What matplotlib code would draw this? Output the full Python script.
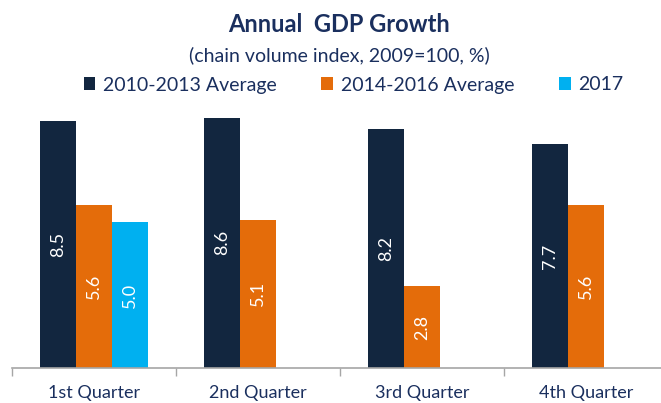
import matplotlib
matplotlib.use('Agg')

import matplotlib.pyplot as plt
from matplotlib.patches import Patch
import numpy as np

# data
quarters = ["1st Quarter", "2nd Quarter", "3rd Quarter", "4th Quarter"]
series_names = ["2010-2013 Average", "2014-2016 Average", "2017"]
avg_2010_2013 = [8.5, 8.6, 8.2, 7.7]
avg_2014_2016 = [5.6, 5.1, 2.8, 5.6]
val_2017 = [5.0, None, None, None]

colors = ["#12263F", "#E46C0A", "#00B0F0"]
text_color = "#1A2F5E"

plt.rcParams['font.family'] = ['Lato', 'DejaVu Sans']

fig = plt.figure(figsize=(6.61, 4.03), dpi=100)
ax = fig.add_axes([12 / 661, 35 / 403, 656 / 661, 262 / 403])

x = np.arange(len(quarters))
width = 0.22
all_series = [avg_2010_2013, avg_2014_2016, val_2017]

for i, (vals, color) in enumerate(zip(all_series, colors)):
    for xi, v in zip(x, vals):
        if v is None:
            continue
        pos = xi + (i - 1) * width
        ax.bar(pos, v, width, color=color, edgecolor='none')
        ax.text(pos, v / 2, f"{v:.1f}", rotation=90, ha='center', va='center',
                color='white', fontsize=13)

ax.set_xlim(-0.5, 3.5)
ax.set_ylim(0, 9)
ax.set_yticks([])
ax.set_xticks(np.arange(-0.5, 4, 1))
ax.set_xticklabels([])
ax.set_xticks(x, minor=True)
ax.set_xticklabels(quarters, minor=True, fontsize=13, color=text_color)
ax.tick_params(axis='x', which='major', length=6, color='#A6A6A6', width=1)
ax.tick_params(axis='x', which='minor', length=0, pad=12)

for side in ['top', 'right', 'left']:
    ax.spines[side].set_visible(False)
ax.spines['bottom'].set_color('#A6A6A6')
ax.spines['bottom'].set_linewidth(1.2)

fig.text(0.513, 1 - 25 / 403, "Annual  GDP Growth", ha='center', va='center',
         fontsize=17, fontweight='bold', color=text_color)
fig.text(0.513, 1 - 55 / 403, "(chain volume index, 2009=100, %)", ha='center',
         va='center', fontsize=14, color=text_color)

handles = [Patch(facecolor=c, edgecolor='none') for c in colors]
leg = fig.legend(handles, series_names, loc='center', ncol=3,
                 bbox_to_anchor=(0.535, 1 - 85 / 403), frameon=False,
                 fontsize=14, handlelength=0.6, handleheight=0.6,
                 handletextpad=0.4, columnspacing=2.3)
for t in leg.get_texts():
    t.set_color(text_color)

fig.savefig("out.png", dpi=100)
